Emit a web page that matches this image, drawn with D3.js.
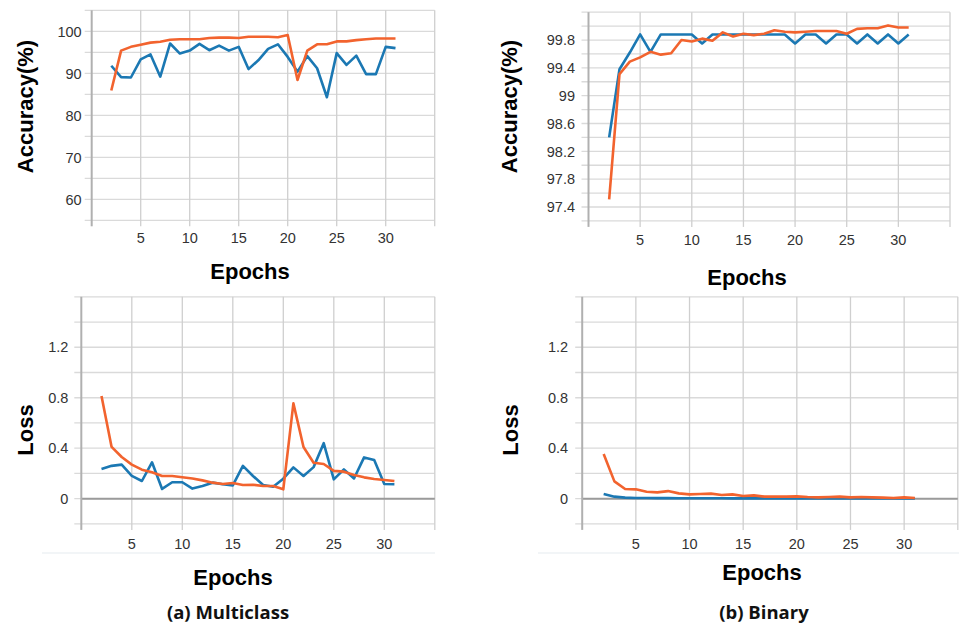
<!DOCTYPE html>
<html><head><meta charset="utf-8">
<script src="https://cdn.jsdelivr.net/npm/d3@7"></script>
<style>
html,body{margin:0;padding:0;background:#fff;}
svg{display:block;}
</style></head>
<body>
<svg id="chart" width="961" height="626"></svg>
<script>
// ---- data ----
const epochs = [2,3,4,5,6,7,8,9,10,11,12,13,14,15,16,17,18,19,20,21,22,23,24,25,26,27,28,29,30,31];
const xTicks = [5,10,15,20,25,30];

const mcAccBlue   = [91.8,89.1,89.0,93.3,94.5,89.2,97.1,94.7,95.4,97.0,95.5,96.6,95.4,96.3,91.0,93.1,95.8,96.9,93.9,90.4,94.1,91.2,84.3,94.8,92.0,94.2,89.8,89.8,96.3,96.0];
const mcAccOrange = [85.9,95.4,96.3,96.8,97.3,97.5,98.0,98.1,98.1,98.1,98.4,98.5,98.5,98.4,98.7,98.7,98.7,98.6,99.1,88.4,95.4,96.9,96.9,97.6,97.6,97.9,98.1,98.3,98.3,98.3];

const binAccBlue   = [98.40,99.38,99.62,99.88,99.63,99.88,99.88,99.88,99.88,99.75,99.88,99.88,99.88,99.88,99.88,99.88,99.88,99.88,99.75,99.88,99.88,99.75,99.88,99.88,99.75,99.88,99.75,99.88,99.75,99.88];
const binAccOrange = [97.51,99.31,99.49,99.55,99.63,99.59,99.61,99.80,99.78,99.82,99.79,99.91,99.85,99.89,99.87,99.89,99.94,99.92,99.91,99.92,99.93,99.93,99.93,99.89,99.96,99.97,99.97,100.01,99.98,99.98];

const mcLossBlue   = [0.235,0.26,0.27,0.18,0.14,0.288,0.077,0.13,0.13,0.08,0.10,0.127,0.114,0.105,0.26,0.18,0.108,0.095,0.158,0.248,0.18,0.25,0.44,0.153,0.232,0.16,0.327,0.306,0.116,0.114];
const mcLossOrange = [0.813,0.41,0.33,0.27,0.23,0.21,0.18,0.18,0.17,0.16,0.145,0.127,0.116,0.124,0.108,0.11,0.10,0.10,0.074,0.755,0.41,0.285,0.275,0.22,0.214,0.187,0.169,0.156,0.148,0.14];

const binLossBlue   = [0.037,0.016,0.008,0.005,0.005,0.004,0.004,0.003,0.003,0.003,0.003,0.003,0.002,0.002,0.002,0.002,0.002,0.002,0.002,0.002,0.001,0.001,0.001,0.001,0.001,0.001,0.001,0.001,0.001,0.001];
const binLossOrange = [0.354,0.137,0.077,0.074,0.055,0.05,0.06,0.042,0.034,0.037,0.04,0.029,0.034,0.021,0.026,0.016,0.016,0.016,0.018,0.013,0.01,0.013,0.016,0.01,0.013,0.01,0.008,0.005,0.01,0.005];

const mcAccTicks  = [60,70,80,90,100];
const binAccTicks = [97.4,97.8,98.2,98.6,99,99.4,99.8];
const lossTicks   = [0,0.4,0.8,1.2];

const captions = ["(a) Multiclass","(b) Binary"];

// ---- drawing ----
const svg = d3.select("#chart");
const BLUE = "#1b78b3", ORANGE = "#f2632e";

function panel(o){
  const x = d3.scaleLinear().domain([0,35]).range([o.x0,o.x1]);
  const y = d3.scaleLinear().domain(o.yDomain).range([o.yb,o.yt]);
  const g = svg.append("g");
  // horizontal grid
  const hg = d3.range(0, Math.round((o.yDomain[1]-o.yDomain[0])/o.gridStep)+1).map(i=>o.yDomain[0]+i*o.gridStep);
  g.selectAll(".hg").data(hg).join("line")
    .attr("x1",o.x0-7).attr("x2",o.x1)
    .attr("y1",d=>y(d)).attr("y2",d=>y(d))
    .attr("stroke","#dadada").attr("stroke-width",1.3);
  // vertical grid
  const vg = [5,10,15,20,25,30,35];
  g.selectAll(".vg").data(vg).join("line")
    .attr("x1",d=>x(d)).attr("x2",d=>x(d))
    .attr("y1",o.yt).attr("y2",o.yb+6)
    .attr("stroke","#cfcfcf").attr("stroke-width",1.3);
  // zero line
  if(o.zero){
    g.append("line").attr("x1",o.x0).attr("x2",o.x1)
      .attr("y1",y(0)).attr("y2",y(0))
      .attr("stroke","#9a9a9a").attr("stroke-width",2);
  }
  // y axis line
  g.append("line").attr("x1",o.x0).attr("x2",o.x0)
    .attr("y1",o.yt).attr("y2",o.yb+6)
    .attr("stroke","#b0b0b0").attr("stroke-width",2);
  // y tick labels
  g.selectAll(".yl").data(o.yTicks).join("text")
    .attr("x",o.x0-o.ylGap).attr("y",d=>y(d)).attr("dy","0.36em")
    .attr("text-anchor","end").attr("font-family","Liberation Sans, Arial, sans-serif")
    .attr("font-size",14.5).attr("fill","#333").text(d=>String(d));
  // x tick labels
  g.selectAll(".xl").data(xTicks).join("text")
    .attr("x",d=>x(d)).attr("y",o.yb+o.xlGap)
    .attr("text-anchor","middle").attr("font-family","Liberation Sans, Arial, sans-serif")
    .attr("font-size",14.5).attr("fill","#333").text(d=>d);
  // lines
  const line = d3.line().x((d,i)=>x(epochs[i])).y(d=>y(d));
  [[o.blue,BLUE],[o.orange,ORANGE]].forEach(([vals,c])=>{
    g.append("path").datum(vals).attr("d",line)
      .attr("fill","none").attr("stroke",c).attr("stroke-width",2.6)
      .attr("stroke-linejoin","round").attr("stroke-linecap","butt");
  });
  // axis titles
  g.append("text").attr("transform",`translate(${o.ytX},${o.ytY}) rotate(-90)`)
    .attr("text-anchor","middle").attr("font-family","Liberation Sans, Arial, sans-serif")
    .attr("font-weight","bold").attr("font-size",22).attr("fill","#000").text(o.yTitle);
  g.append("text").attr("x",o.xtX).attr("y",o.xtY)
    .attr("text-anchor","middle").attr("font-family","Liberation Sans, Arial, sans-serif")
    .attr("font-weight","bold").attr("font-size",22).attr("fill","#000").text("Epochs");
}

panel({x0:91.7,x1:434.7,yt:10.3,yb:220.3,yDomain:[55,105],gridStep:5,yTicks:mcAccTicks,
  ylGap:10,xlGap:23,blue:mcAccBlue,orange:mcAccOrange,yTitle:"Accuracy(%)",ytX:33,ytY:106.5,xtX:250,xtY:279});
panel({x0:588.5,x1:950,yt:12.2,yb:220.9,yDomain:[97.2,100.2],gridStep:0.2,yTicks:binAccTicks,
  ylGap:13.5,xlGap:24,blue:binAccBlue,orange:binAccOrange,yTitle:"Accuracy(%)",ytX:516.5,ytY:106.5,xtX:747,xtY:285});
panel({x0:81.3,x1:434.8,yt:296.8,yb:523.9,yDomain:[-0.2,1.6],gridStep:0.2,yTicks:lossTicks,zero:true,
  ylGap:13,xlGap:25,blue:mcLossBlue,orange:mcLossOrange,yTitle:"Loss",ytX:33,ytY:430,xtX:233,xtY:585});
panel({x0:582.2,x1:957.8,yt:296.8,yb:523.9,yDomain:[-0.2,1.6],gridStep:0.2,yTicks:lossTicks,zero:true,
  ylGap:14,xlGap:25,blue:binLossBlue,orange:binLossOrange,yTitle:"Loss",ytX:518,ytY:430,xtX:762,xtY:580});

// faint separators under bottom panels
svg.append("line").attr("x1",42).attr("x2",435).attr("y1",553).attr("y2",553).attr("stroke","#eef2f4").attr("stroke-width",1.5);
svg.append("line").attr("x1",538).attr("x2",959).attr("y1",553).attr("y2",553).attr("stroke","#eef2f4").attr("stroke-width",1.5);

// captions
svg.selectAll(".cap").data(captions).join("text")
  .attr("x",(d,i)=>[228,764][i]).attr("y",619)
  .attr("text-anchor","middle").attr("font-family","Open Sans, sans-serif")
  .attr("font-weight","bold").attr("font-size",18.5).attr("fill","#111").text(d=>d);
</script>
</body></html>
